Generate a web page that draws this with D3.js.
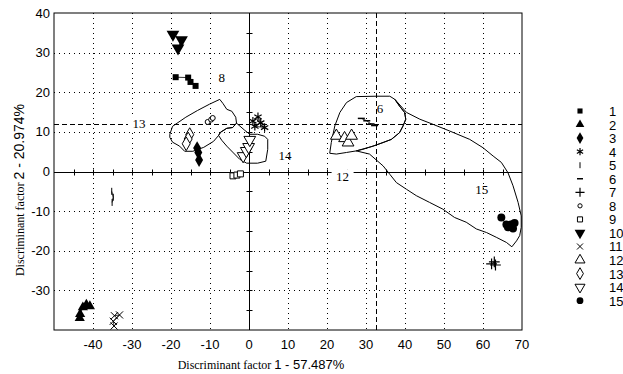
<!DOCTYPE html>
<html>
<head>
<meta charset="utf-8">
<script src="https://cdn.jsdelivr.net/npm/d3@7"></script>
<style>
  body { margin: 0; background: #fff; }
  svg { display: block; }
  .tick-lbl { font-family: "Liberation Sans Narrow", "Liberation Sans", Arial, sans-serif; font-size: 13px; fill: #000; }
  .serif { font-family: "Liberation Serif", "Times New Roman", serif; }
  .sans { font-family: "Liberation Sans Narrow", "Liberation Sans", Arial, sans-serif; }
</style>
</head>
<body>
<svg id="chart" width="623" height="374"></svg>
<script>
// tick values
const xTicks = [-40, -30, -20, -10, 0, 10, 20, 30, 40, 50, 60, 70];
const yTicks = [-30, -20, -10, 0, 10, 20, 30, 40];
const xGrid = [-40, -30, -20, -10, 10, 20, 30, 40, 50, 60];
const yGrid = [-30, -20, -10, 10, 20, 30];

// group scores (factor 1, factor 2)
const g1 = [[-18.8, 23.8], [-15.6, 23.7], [-15.0, 22.6], [-13.7, 21.6]];
const g2 = [[-43.4, -37.0], [-43.3, -36.0], [-42.6, -34.3], [-41.7, -33.6], [-40.8, -34.0]];
const g3 = [[-13.3, 5.9], [-13.0, 4.8], [-12.8, 2.9]];
const g4 = [[1.0, 12.7], [2.3, 13.8], [3.0, 12.3], [4.0, 11.1], [1.5, 11.4]];
const g5 = [[-35.2, -5.0], [-34.8, -6.5], [-35.1, -7.8]];
const g6 = [[28.8, 13.4], [30.2, 12.8], [31.3, 12.0], [32.2, 11.6]];
const g7 = [[62.2, -23.3], [62.9, -22.8], [63.2, -23.6]];
const g8 = [[-10.6, 12.5], [-9.7, 13.1], [-9.3, 13.5]];
const g9 = [[-4.1, -1.1], [-3.1, -0.9], [-2.2, -0.6]];
const g10 = [[-19.5, 34.6], [-17.3, 33.2], [-18.2, 31.1]];
const g11 = [[-34.5, -36.4], [-33.2, -36.2], [-34.8, -37.8], [-34.6, -39.0]];
const g12 = [[22.4, 9.0], [24.5, 8.4], [25.4, 7.3], [26.3, 9.0]];
const g13 = [[-15.2, 9.3], [-15.6, 8.2], [-16.1, 7.0]];
const g14 = [[-1.5, 3.9], [-0.7, 5.2], [-0.1, 6.2], [0.2, 8.0]];
const g15 = [[64.7, -11.6], [66.0, -13.4], [66.4, -14.1], [67.3, -13.3], [67.7, -14.4], [68.1, -13.0]];

const groupData = [g1, g2, g3, g4, g5, g6, g7, g8, g9, g10, g11, g12, g13, g14, g15];
const groupNames = ["1","2","3","4","5","6","7","8","9","10","11","12","13","14","15"];
const groupMarks = ["square","triangle","diamond","asterisk","vbar","hbar","plus","ocircle","osquare","tridown","times","otriangle","odiamond","otridown","circle"];

// outlines drawn round the clusters
const hull13 = [[-20.3, 9.4], [-19.6, 11.4], [-16.2, 13.7], [-13.2, 15.4], [-10.1, 17.0], [-7.5, 18.2], [-6.7, 17.2], [-5.7, 15.7], [-4.4, 15.2], [-3.4, 13.7], [-3.2, 12.2], [-4.2, 11.1], [-5.7, 10.9], [-7.3, 9.9], [-7.8, 9.1], [-9.1, 7.6], [-11.6, 6.1], [-14.4, 5.1], [-16.5, 5.1], [-17.8, 6.4], [-19.6, 7.4], [-20.3, 8.6]];
const hull14 = [[-3.2, 12.2], [-1.1, 10.4], [0.2, 9.4], [2.2, 9.4], [4.0, 8.9], [4.8, 8.1], [4.8, 5.6], [4.3, 2.6], [2.2, 2.1], [-0.6, 2.1], [-2.4, 3.1], [-4.2, 4.9], [-5.7, 6.4], [-7.0, 7.9], [-7.8, 9.1], [-7.3, 9.9], [-5.7, 10.9], [-4.2, 11.1]];
const hull6 = [[20.7, 4.6], [21.1, 7.3], [22.0, 11.5], [23.3, 14.9], [25.0, 17.4], [27.5, 18.9], [32.7, 19.0], [36.1, 19.0], [37.4, 18.2], [38.6, 16.5], [39.9, 14.9], [40.2, 13.2], [39.5, 11.5], [38.6, 9.8], [36.5, 8.1], [34.4, 7.3], [31.8, 6.4], [29.2, 5.6], [27.5, 5.2], [25.0, 4.8], [22.4, 4.4]];
const hull15 = [[37.4, 18.2], [40.4, 14.9], [43.8, 13.2], [47.2, 11.9], [51.5, 10.2], [56.6, 8.1], [60.0, 6.0], [62.6, 3.9], [64.7, 2.3], [66.4, -0.3], [67.7, -3.6], [69.0, -7.8], [69.8, -11.2], [69.8, -14.1], [69.4, -16.2], [68.6, -17.5], [67.4, -19.0], [66.0, -17.9], [63.4, -16.6], [60.9, -15.4], [58.3, -14.5], [55.7, -12.8], [52.7, -11.6], [49.7, -9.5], [46.3, -7.8], [42.9, -6.1], [40.4, -4.5], [37.8, -2.8], [36.1, -0.7], [34.4, 1.4], [30.9, 4.4], [27.5, 5.2], [31.8, 6.4], [36.5, 8.1], [38.6, 9.8], [39.5, 11.5], [40.2, 13.2], [39.9, 14.9], [38.6, 16.5]];
const hulls = [hull13, hull14, hull6, hull15];

// cluster numbers written on the plot
const clusterLabels = ["8", "13", "14", "6", "12", "15"];
const clusterAt = [[-7.0, 23.7], [-28.2, 12.1], [9.2, 4.1], [33.6, 15.8], [24.0, -1.2], [59.7, -4.6]];

const refX = 32.5, refY = 12.1;

const svg = d3.select("#chart");
const x = d3.scaleLinear().domain([-50, 70]).range([54, 522]);
const y = d3.scaleLinear().domain([-40, 40]).range([330, 13]);

// dotted grid
svg.append("g").selectAll("line").data(xGrid).join("line")
  .attr("x1", d => Math.round(x(d)) + 0.5).attr("x2", d => Math.round(x(d)) + 0.5)
  .attr("y1", y(40)).attr("y2", y(-40))
  .attr("stroke", "#000").attr("stroke-dasharray", "1,4");
svg.append("g").selectAll("line").data(yGrid).join("line")
  .attr("y1", d => Math.round(y(d)) + 0.5).attr("y2", d => Math.round(y(d)) + 0.5)
  .attr("x1", x(-50)).attr("x2", x(70))
  .attr("stroke", "#000").attr("stroke-dasharray", "1,4");

// axes through the origin
const x0 = Math.round(x(0)) + 0.5, y0 = Math.round(y(0)) + 0.5;
svg.append("line").attr("x1", x(-50)).attr("x2", x(70)).attr("y1", y0).attr("y2", y0).attr("stroke", "#000");
svg.append("line").attr("x1", x0).attr("x2", x0).attr("y1", y(40)).attr("y2", y(-40)).attr("stroke", "#000");
svg.append("g").selectAll("line").data(d3.range(-45, 70, 5)).join("line")
  .attr("x1", d => Math.round(x(d)) + 0.5).attr("x2", d => Math.round(x(d)) + 0.5)
  .attr("y1", y0 - 3).attr("y2", y0 + 3).attr("stroke", "#000");
svg.append("g").selectAll("line").data(d3.range(-35, 40, 5)).join("line")
  .attr("y1", d => Math.round(y(d)) + 0.5).attr("y2", d => Math.round(y(d)) + 0.5)
  .attr("x1", x0 - 3).attr("x2", x0 + 3).attr("stroke", "#000");

// dashed reference lines
svg.append("line").attr("x1", x(-50)).attr("x2", x(70))
  .attr("y1", Math.round(y(refY)) + 0.5).attr("y2", Math.round(y(refY)) + 0.5)
  .attr("stroke", "#000").attr("stroke-dasharray", "5,3");
svg.append("line").attr("y1", y(40)).attr("y2", y(-40))
  .attr("x1", Math.round(x(refX)) + 0.5).attr("x2", Math.round(x(refX)) + 0.5)
  .attr("stroke", "#000").attr("stroke-dasharray", "5,3");

// outlines
const line = d3.line().x(d => x(d[0])).y(d => y(d[1])).curve(d3.curveLinearClosed);
svg.append("g").selectAll("path").data(hulls).join("path")
  .attr("d", line).attr("fill", "none").attr("stroke", "#000").attr("stroke-width", 1);

// cluster labels with white background
const lab = svg.append("g").selectAll("g").data(clusterLabels).join("g")
  .attr("transform", (d, i) => `translate(${x(clusterAt[i][0])},${y(clusterAt[i][1])})`);
lab.filter(d => d === "13" || d === "12").append("rect")
  .attr("x", -11).attr("y", -7).attr("width", 22).attr("height", 14).attr("fill", "#fff");
lab.append("text").attr("class", "serif").attr("text-anchor", "middle").attr("dy", "0.35em")
  .style("font-size", "13px").text(d => d);

// connecting lines inside each group
const pline = d3.line().x(d => x(d[0])).y(d => y(d[1]));
svg.append("g").selectAll("path").data(groupData).join("path")
  .attr("d", pline).attr("fill", "none").attr("stroke", "#000").attr("stroke-width", 0.8);

function marker(sel, kind, s) {
  const k = s || 1;
  const sym = (t, size) => d3.symbol().type(t).size(size * k * k)();
  if (kind === "square") sel.append("path").attr("d", sym(d3.symbolSquare, 36)).attr("fill", "#000");
  else if (kind === "triangle") sel.append("path").attr("d", sym(d3.symbolTriangle, 45)).attr("fill", "#000");
  else if (kind === "diamond") sel.append("path").attr("d", sym(d3.symbolDiamond, 55)).attr("fill", "#000");
  else if (kind === "circle") sel.append("path").attr("d", sym(d3.symbolCircle, 50)).attr("fill", "#000");
  else if (kind === "tridown") sel.append("path").attr("d", sym(d3.symbolTriangle, 70)).attr("transform", "rotate(180)").attr("fill", "#000");
  else if (kind === "asterisk") sel.append("path").attr("d", sym(d3.symbolAsterisk, 50)).attr("fill", "none").attr("stroke", "#000").attr("stroke-width", 1.2);
  else if (kind === "plus") sel.append("path").attr("d", sym(d3.symbolPlus, 40)).attr("fill", "none").attr("stroke", "#000").attr("stroke-width", 1.2);
  else if (kind === "times") sel.append("path").attr("d", sym(d3.symbolTimes, 35)).attr("fill", "none").attr("stroke", "#000").attr("stroke-width", 1);
  else if (kind === "ocircle") sel.append("circle").attr("r", 2.5 * k).attr("fill", "#fff").attr("stroke", "#000");
  else if (kind === "osquare") sel.append("path").attr("d", sym(d3.symbolSquare, 36)).attr("fill", "#fff").attr("stroke", "#000");
  else if (kind === "otriangle") sel.append("path").attr("d", sym(d3.symbolTriangle, 60)).attr("fill", "#fff").attr("stroke", "#000");
  else if (kind === "odiamond") sel.append("path").attr("d", sym(d3.symbolDiamond, 55)).attr("fill", "#fff").attr("stroke", "#000");
  else if (kind === "otridown") sel.append("path").attr("d", sym(d3.symbolTriangle, 60)).attr("transform", "rotate(180)").attr("fill", "#fff").attr("stroke", "#000");
  else if (kind === "vbar") sel.append("line").attr("y1", -3.5 * k).attr("y2", 3.5 * k).attr("stroke", "#000");
  else if (kind === "hbar") sel.append("line").attr("x1", -3.5 * k).attr("x2", 3.5 * k).attr("stroke", "#000").attr("stroke-width", 1.5);
}

// points
groupData.forEach((pts, gi) => {
  const g = svg.append("g").selectAll("g").data(pts).join("g")
    .attr("transform", d => `translate(${x(d[0])},${y(d[1])})`);
  g.each(function() { marker(d3.select(this), groupMarks[gi], 1); });
});

// frame
svg.append("rect").attr("x", x(-50)).attr("y", y(40)).attr("width", x(70) - x(-50)).attr("height", y(-40) - y(40))
  .attr("fill", "none").attr("stroke", "#000");

// tick labels
svg.append("g").selectAll("text").data(xTicks).join("text")
  .attr("class", "tick-lbl").attr("x", d => x(d)).attr("y", 349).attr("text-anchor", "middle").text(d => d);
svg.append("g").selectAll("text").data(yTicks).join("text")
  .attr("class", "tick-lbl").attr("x", 50).attr("y", d => y(d)).attr("dy", "0.35em").attr("text-anchor", "end").text(d => d);

// axis titles
const xt = svg.append("text").attr("x", 261).attr("y", 369).attr("text-anchor", "middle");
xt.append("tspan").attr("class", "serif").style("font-size", "12px").text("Discriminant factor ");
xt.append("tspan").attr("class", "sans").style("font-size", "13px").text("1 - 57.487%");
const yt = svg.append("text").attr("transform", "translate(24,190) rotate(-90)").attr("text-anchor", "middle");
yt.append("tspan").attr("class", "serif").style("font-size", "12px").text("Discriminant factor ");
yt.append("tspan").attr("class", "sans").style("font-size", "14px").text("2 - 20.974%");

// legend
const leg = svg.append("g").selectAll("g").data(groupNames).join("g")
  .attr("transform", (d, i) => `translate(580,${111 + i * 13.55})`);
leg.each(function(d, i) { marker(d3.select(this), groupMarks[i], 0.85); });
leg.append("text").attr("class", "tick-lbl").attr("x", 29).attr("dy", "0.38em").text(d => d);
</script>
</body>
</html>
